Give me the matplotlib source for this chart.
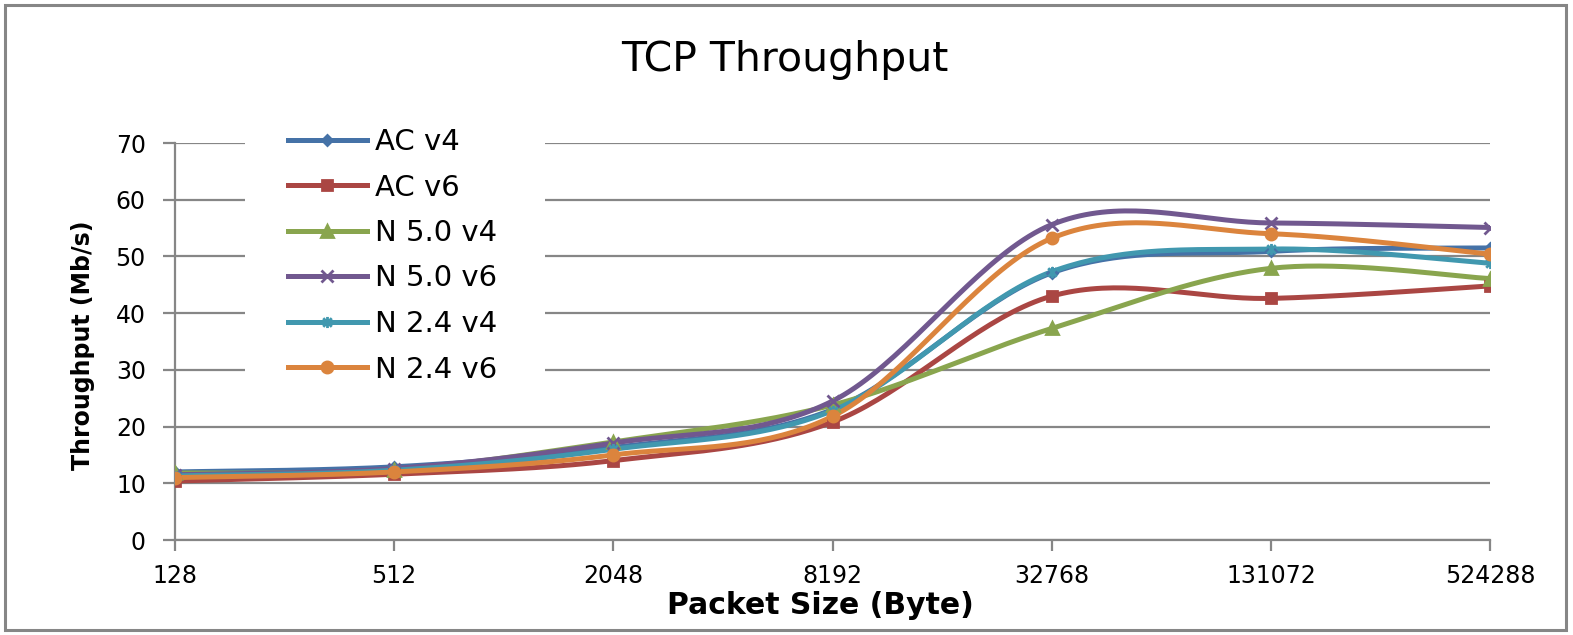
import numpy as np
import matplotlib
matplotlib.use("Agg")
import matplotlib.pyplot as plt
from matplotlib.patches import Rectangle
from matplotlib.path import Path

# ---- data ----
categories = ["128", "512", "2048", "8192", "32768", "131072", "524288"]
series_names = ["AC v4", "AC v6", "N 5.0 v4", "N 5.0 v6", "N 2.4 v4", "N 2.4 v6"]
ac_v4 = [12.0, 12.9, 16.3, 23.0, 47.1, 50.9, 51.5]
ac_v6 = [10.4, 11.6, 14.0, 20.8, 43.0, 42.6, 44.8]
n50_v4 = [11.8, 12.4, 17.3, 23.8, 37.3, 47.9, 46.1]
n50_v6 = [11.5, 12.6, 17.1, 24.5, 55.6, 55.9, 55.1]
n24_v4 = [11.3, 12.3, 16.0, 22.8, 47.3, 51.3, 48.8]
n24_v6 = [11.0, 12.0, 15.0, 21.8, 53.2, 54.0, 50.4]
y_ticks = [0, 10, 20, 30, 40, 50, 60, 70]

colors = ["#4572A7", "#AA4643", "#89A54E", "#71588F", "#4198AF", "#DB843D"]

# asterisk marker (x plus vertical bar)
ast = Path([(-1, -1), (1, 1), (-1, 1), (1, -1), (0, -1.3), (0, 1.3)],
           [Path.MOVETO, Path.LINETO, Path.MOVETO, Path.LINETO, Path.MOVETO, Path.LINETO])
markers = ["D", "s", "^", "x", ast, "o"]
msizes = [5, 7.5, 8, 8, 8, 8]


def smooth(y, n=40):
    """Excel-style smoothed line (Catmull-Rom Bezier) in category index space."""
    y = np.asarray(y, float)
    x = np.arange(len(y), dtype=float)
    P = np.column_stack([x, y])
    out = []
    for i in range(len(P) - 1):
        p0 = P[max(i - 1, 0)]
        p1 = P[i]
        p2 = P[i + 1]
        p3 = P[min(i + 2, len(P) - 1)]
        b1 = p1 + (p2 - p0) / 6.0
        b2 = p2 - (p3 - p1) / 6.0
        t = np.linspace(0, 1, n)[:, None]
        seg = ((1 - t) ** 3) * p1 + 3 * ((1 - t) ** 2) * t * b1 + 3 * (1 - t) * t ** 2 * b2 + t ** 3 * p2
        if i > 0:
            seg = seg[1:]
        out.append(seg)
    c = np.vstack(out)
    return c[:, 0], c[:, 1]


W, H = 1573, 635
fig = plt.figure(figsize=(W / 100, H / 100), dpi=100)
plt.rcParams["font.family"] = ["DejaVu Sans"]

L, R, T, B = 175, 1490, 143, 540
ax = fig.add_axes([L / W, 1 - B / H, (R - L) / W, (B - T) / H])
ax.set_xlim(0, len(categories) - 1)
ax.set_ylim(0, 70)

grid_col = "#868686"
ax.set_yticks(y_ticks)
ax.set_yticklabels([str(v) for v in y_ticks])
ax.set_xticks(range(len(categories)))
ax.set_xticklabels(categories)
ax.yaxis.grid(True, color=grid_col, linewidth=1.6, zorder=0.5)
ax.set_axisbelow(True)
for s in ["top", "right"]:
    ax.spines[s].set_visible(False)
for s in ["left", "bottom"]:
    ax.spines[s].set_color(grid_col)
    ax.spines[s].set_linewidth(1.6)
ax.tick_params(axis="y", direction="out", length=9, width=1.6, color=grid_col,
               labelsize=17, pad=12)
ax.tick_params(axis="x", direction="out", length=8, width=1.6, color=grid_col,
               labelsize=17, pad=9)

all_series = [ac_v4, ac_v6, n50_v4, n50_v6, n24_v4, n24_v6]
handles = []
for name, vals, c, m, ms in zip(series_names, all_series, colors, markers, msizes):
    xs, ys = smooth(vals)
    ax.plot(xs, ys, color=c, linewidth=3.6, solid_capstyle="round", zorder=2)
    ax.plot(range(len(vals)), vals, linestyle="none", marker=m, markersize=ms,
            color=c, markeredgecolor=c, markeredgewidth=2, zorder=3)
    h, = ax.plot([], [], color=c, linewidth=3.6, marker=m, markersize=ms,
                 markeredgecolor=c, markeredgewidth=2)
    handles.append(h)

# white area behind legend hiding gridlines
ax.add_patch(Rectangle((245 / W, 1 - 398 / H), 300 / W, 273 / H,
                       transform=fig.transFigure, facecolor="white",
                       edgecolor="none", zorder=1.5, clip_on=False))

leg = fig.legend(handles, series_names, loc="upper left",
                 bbox_to_anchor=(288 / W, 1 - 128 / H), frameon=False,
                 fontsize=21, handlelength=2.7, handletextpad=0.27,
                 labelspacing=0.6, borderpad=0, borderaxespad=0)

fig.text(785 / W, 1 - 60 / H, "TCP Throughput", fontsize=29.5,
         ha="center", va="center")
fig.text(820 / W, 1 - 606 / H, "Packet Size (Byte)", fontsize=21.5,
         fontweight="bold", ha="center", va="center")
fig.text(83 / W, 1 - 345 / H, "Throughput (Mb/s)", fontsize=17,
         fontweight="bold", ha="center", va="center", rotation=90)

# chart area border
fig.patches.append(Rectangle((5 / W, 5 / H), 1561 / W, 625 / H,
                             transform=fig.transFigure, fill=False,
                             edgecolor=grid_col, linewidth=2.2))

fig.savefig("out.png", dpi=100)
